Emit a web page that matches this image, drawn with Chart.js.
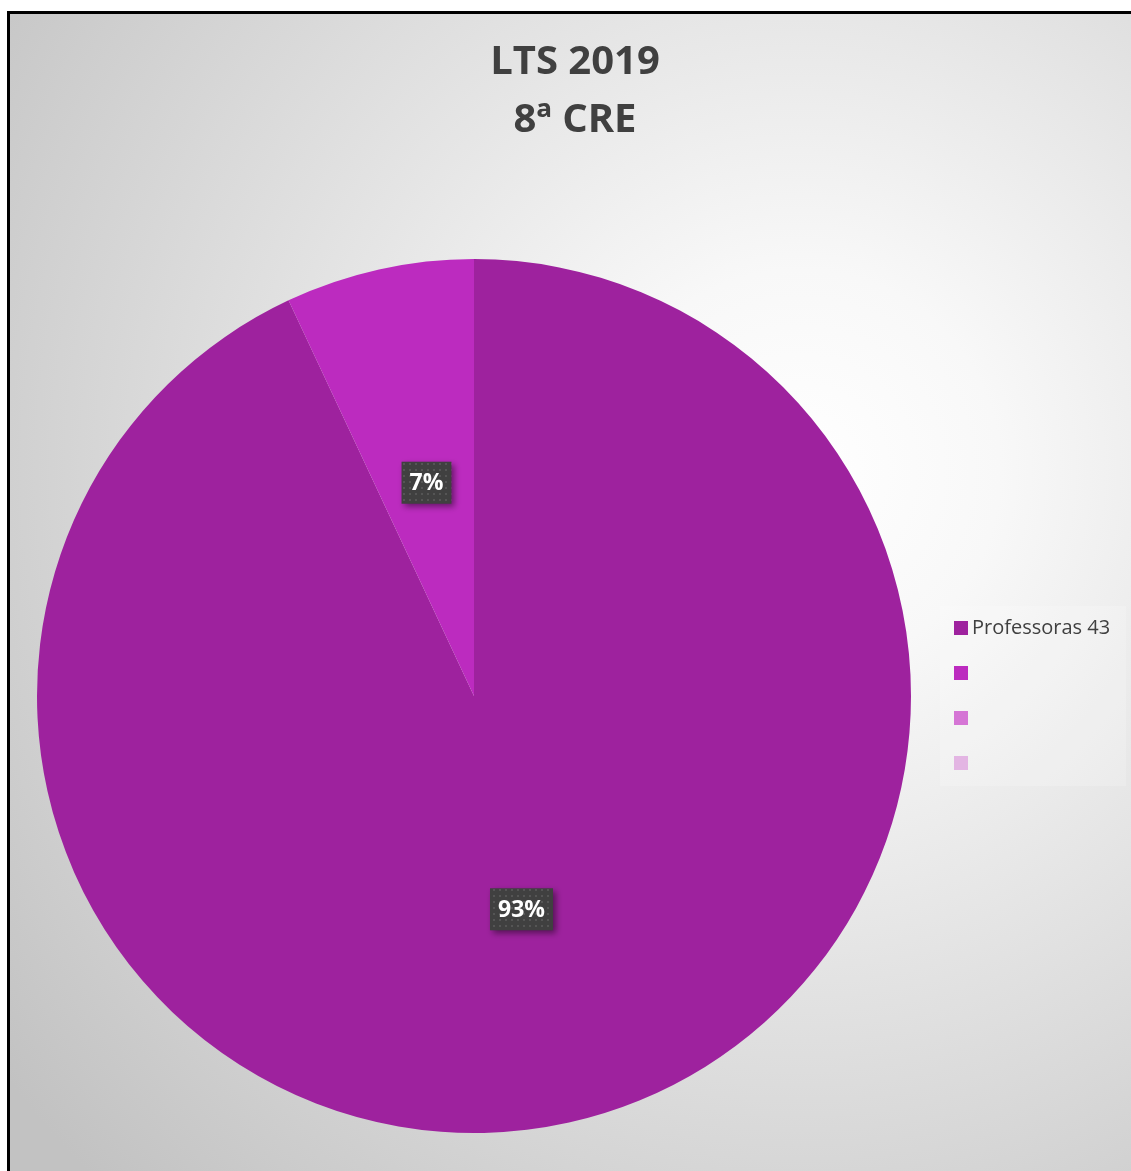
<!DOCTYPE html>
<html>
<head>
<meta charset="utf-8">
<script src="https://cdn.jsdelivr.net/npm/chart.js@4"></script>
<style>
  html, body { margin: 0; padding: 0; background: #fff; }
  #wrap { width: 1131px; height: 1171px; position: relative; }
</style>
</head>
<body>
<div id="wrap"><canvas id="pie" width="1131" height="1171"></canvas></div>
<script>
// data: 43 professoras, 40 / 3 split
const categories = ['Professoras 43', '', '', ''];
const values = [40, 3, 0, 0];
const sliceColors = ['#9E229E', '#BC2BBF', '#D575D5', '#E3B5E3'];
const titleLines = ['LTS 2019', '8ª CRE'];

const FONT = '"Open Sans", "Noto Sans", sans-serif';

// background, frame and title
const backdrop = {
  id: 'backdrop',
  beforeDraw(chart) {
    const ctx = chart.ctx;
    ctx.save();
    ctx.fillStyle = '#fff';
    ctx.fillRect(0, 0, chart.width, chart.height);
    const g = ctx.createRadialGradient(800, 470, 0, 800, 470, 1000);
    g.addColorStop(0, '#ffffff');
    g.addColorStop(0.2, '#f8f8f8');
    g.addColorStop(1, '#c2c2c2');
    ctx.fillStyle = g;
    ctx.fillRect(9, 13, chart.width, chart.height);
    ctx.strokeStyle = '#000';
    ctx.lineWidth = 3;
    ctx.strokeRect(8.5, 12.5, chart.width + 20, chart.height + 20);

    ctx.fillStyle = '#404040';
    ctx.font = 'bold 40px ' + FONT;
    ctx.textAlign = 'center';
    ctx.textBaseline = 'middle';
    ctx.fillText(titleLines[0], 575, 63);
    ctx.fillText(titleLines[1], 575, 121);

    // legend panel
    ctx.fillStyle = 'rgba(255,255,255,0.2)';
    ctx.fillRect(940, 606, 186, 180);
    ctx.restore();
  }
};

// legend drawn from the labels and colours
const sideLegend = {
  id: 'sideLegend',
  afterDraw(chart) {
    const ctx = chart.ctx;
    const ds = chart.data.datasets[0];
    ctx.save();
    ctx.font = '20px ' + FONT;
    ctx.textBaseline = 'middle';
    ctx.textAlign = 'left';
    chart.data.labels.forEach((lab, i) => {
      const y = 628 + i * 45;
      ctx.fillStyle = ds.backgroundColor[i];
      ctx.fillRect(954, y - 7, 14, 14);
      ctx.fillStyle = '#404040';
      ctx.fillText(lab, 972, y);
    });
    ctx.restore();
  }
};

// percent labels in dark dotted boxes
function dotPattern(ctx) {
  const c = document.createElement('canvas');
  c.width = 6; c.height = 6;
  const p = c.getContext('2d');
  p.fillStyle = '#404040';
  p.fillRect(0, 0, 6, 6);
  p.fillStyle = '#555555';
  p.fillRect(1, 1, 2, 2);
  return ctx.createPattern(c, 'repeat');
}

const pctLabels = {
  id: 'pctLabels',
  afterDatasetsDraw(chart) {
    const ctx = chart.ctx;
    const data = chart.data.datasets[0].data;
    const total = data.reduce((a, b) => a + b, 0);
    const pat = dotPattern(ctx);
    ctx.save();
    ctx.font = 'bold 23px ' + FONT;
    ctx.textAlign = 'center';
    ctx.textBaseline = 'middle';
    chart.getDatasetMeta(0).data.forEach((arc, i) => {
      if (!data[i]) return;
      const txt = Math.round(data[i] / total * 100) + '%';
      const pt = arc.getCenterPoint();
      const w = ctx.measureText(txt).width + 16;
      const h = 42;
      ctx.save();
      ctx.shadowColor = 'rgba(0,0,0,0.45)';
      ctx.shadowBlur = 6;
      ctx.shadowOffsetX = 3;
      ctx.shadowOffsetY = 3;
      ctx.fillStyle = pat;
      ctx.fillRect(pt.x - w / 2, pt.y - h / 2, w, h);
      ctx.restore();
      ctx.fillStyle = '#ffffff';
      ctx.fillText(txt, pt.x, pt.y + 1);
    });
    ctx.restore();
  }
};

new Chart(document.getElementById('pie'), {
  type: 'pie',
  data: {
    labels: categories,
    datasets: [{
      data: values,
      backgroundColor: sliceColors,
      borderWidth: 0
    }]
  },
  options: {
    responsive: false,
    animation: false,
    layout: { padding: { left: 37, right: 220, top: 259, bottom: 38 } },
    plugins: {
      legend: { display: false },
      title: { display: false },
      tooltip: { enabled: false }
    }
  },
  plugins: [backdrop, sideLegend, pctLabels]
});
</script>
</body>
</html>
